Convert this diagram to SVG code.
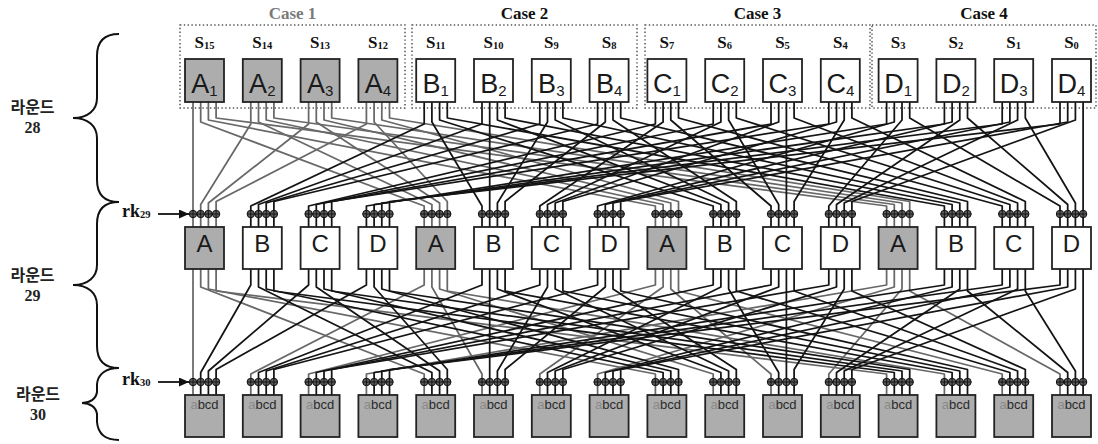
<svg xmlns="http://www.w3.org/2000/svg" xmlns:xlink="http://www.w3.org/1999/xlink" width="1098" height="444" viewBox="0 0 1098 444">
<style>
  .bg { fill: #ffffff; }
  .case { fill: none; stroke: #555; stroke-width: 1.5; stroke-dasharray: 1.4 2.4; }
  .ct { font-family: "Liberation Serif", "DejaVu Serif", serif; font-weight: bold; font-size: 17px; text-anchor: middle; fill: #111; }
  .ct1 { fill: #7a7a7a; }
  .sl { font-family: "Liberation Serif", "DejaVu Serif", serif; font-weight: bold; font-size: 17px; text-anchor: middle; fill: #111; }
  .ss { font-size: 10.5px; }
  .box { stroke: #222; stroke-width: 1.8; }
  .gr { fill: #adadad; }
  .wh { fill: #ffffff; }
  .tl { font-family: "Liberation Sans", Arial, sans-serif; font-size: 27px; text-anchor: middle; fill: #1a1a1a; }
  .tsub { font-size: 15px; }
  .ml { font-family: "Liberation Sans", Arial, sans-serif; font-size: 24px; text-anchor: middle; fill: #1a1a1a; }
  .bl { font-family: "Liberation Sans", Arial, sans-serif; font-size: 13px; text-anchor: middle; fill: #2a2a2a; }
  .bla { fill: #8a8a8a; }
  .w { fill: none; stroke-width: 1.75; stroke-linejoin: round; }
  .g { stroke: #686868; }
  .k { stroke: #141414; }
  .xo circle { fill: #5e5e5e; stroke: #111; stroke-width: 1; }
  .xo path { stroke: #111; stroke-width: 0.9; fill: none; }
  .brace { fill: none; stroke: #111; stroke-width: 2; }
  .rl { font-family: "Noto Sans CJK KR", "Noto Sans", sans-serif; font-weight: bold; font-size: 16px; text-anchor: middle; fill: #222; }
  .rn { font-family: "Liberation Serif", "DejaVu Serif", serif; font-weight: bold; font-size: 16px; text-anchor: middle; fill: #222; }
  .rk { font-family: "Liberation Serif", "DejaVu Serif", serif; font-weight: bold; font-size: 18px; fill: #111; }
  .rks { font-size: 10.5px; }
  .arr { stroke: #111; stroke-width: 1.8; fill: none; }
</style>
<defs>
  <marker id="ah" markerUnits="userSpaceOnUse" markerWidth="11" markerHeight="9" refX="10" refY="4.5" orient="auto">
    <path d="M0 0L10 4.5L0 9z" fill="#111"/>
  </marker>
  <!-- four XOR taps above one S-box, relative to the box's left edge -->
  <g id="xq" class="xo">
    <circle cx="8" cy="0" r="3.7"/><circle cx="15.7" cy="0" r="3.7"/><circle cx="23.4" cy="0" r="3.7"/><circle cx="31.1" cy="0" r="3.7"/>
    <path d="M4.3 0H34.8M8 -3.7V3.7M15.7 -3.7V3.7M23.4 -3.7V3.7M31.1 -3.7V3.7"/>
  </g>
</defs>
<rect class="bg" x="0" y="0" width="1098" height="444"/>

<!-- case groupings -->
<g id="cases">
  <rect class="case" x="180" y="25" width="225" height="83"/>
  <rect class="case" x="412" y="25" width="225" height="83"/>
  <rect class="case" x="645" y="25" width="225" height="83"/>
  <rect class="case" x="872" y="25" width="224" height="83"/>
  <text class="ct ct1" x="292.5" y="19">Case 1</text>
  <text class="ct" x="524.5" y="19">Case 2</text>
  <text class="ct" x="757.5" y="19">Case 3</text>
  <text class="ct" x="984" y="19">Case 4</text>
</g>

<!-- round labels and braces -->
<g id="rounds">
  <path class="brace" d="M119 34C104 34 97 42 97 56V98C97 110 88 118 73 118C88 118 97 126 97 138V180C97 194 104 202 119 202"/>
  <path class="brace" d="M119 202C104 202 97 210 97 224V265C97 277 88 285 73 285C88 285 97 293 97 305V346C97 360 104 368 119 368"/>
  <path class="brace" d="M119 368C106 368 98 374 97 384V392C96 399 90 403 82 403C90 403 96 407 97 414V422C98 434 106 440 119 440"/>
  <text class="rl" x="32.5" y="113">라운드</text>
  <text class="rn" x="32.5" y="133">28</text>
  <text class="rl" x="32.5" y="281">라운드</text>
  <text class="rn" x="32.5" y="301">29</text>
  <text class="rl" x="38" y="400">라운드</text>
  <text class="rn" x="38" y="420">30</text>
  <text class="rk" x="122" y="217">rk<tspan class="rks" dy="1">29</tspan></text>
  <text class="rk" x="122" y="385">rk<tspan class="rks" dy="1">30</tspan></text>
</g>

<!-- bit permutation wiring -->
<g id="connectors">
  <!-- round 28 -->
  <g class="w g">
    <path d="M193 102V227"/>
    <path d="M200.7 102V122L424.2 206V227"/>
    <path d="M208.4 102V120L655.4 206V227"/>
    <path d="M216.1 102V118L886.6 206V227"/>
    <path d="M250.8 102V124L200.7 204.5V227"/>
    <path d="M258.5 102V122L431.9 204.5V227"/>
    <path d="M266.2 102V120L663.1 204.5V227"/>
    <path d="M273.9 102V118L894.3 204.5V227"/>
    <path d="M308.6 102V124L208.4 203V227"/>
    <path d="M316.3 102V122L439.6 203V227"/>
    <path d="M324 102V120L670.8 203V227"/>
    <path d="M331.7 102V118L902 203V227"/>
    <path d="M366.4 102V124L216.1 201.5V227"/>
    <path d="M374.1 102V122L447.3 201.5V227"/>
    <path d="M381.8 102V120L678.5 201.5V227"/>
    <path d="M389.5 102V118L909.7 201.5V227"/>
  </g>
  <g class="w k">
    <path d="M424.2 102V124L250.8 206V227"/>
    <path d="M431.9 102V122L482 206V227"/>
    <path d="M439.6 102V120L713.2 206V227"/>
    <path d="M447.3 102V118L944.4 206V227"/>
    <path d="M482 102V124L258.5 204.5V227"/>
    <path d="M489.7 102V227"/>
    <path d="M497.4 102V120L720.9 204.5V227"/>
    <path d="M505.1 102V118L952.1 204.5V227"/>
    <path d="M539.8 102V124L266.2 203V227"/>
    <path d="M547.5 102V122L497.4 203V227"/>
    <path d="M555.2 102V120L728.6 203V227"/>
    <path d="M562.9 102V118L959.8 203V227"/>
    <path d="M597.6 102V124L273.9 201.5V227"/>
    <path d="M605.3 102V122L505.1 201.5V227"/>
    <path d="M613 102V120L736.3 201.5V227"/>
    <path d="M620.7 102V118L967.5 201.5V227"/>
    <path d="M655.4 102V124L308.6 206V227"/>
    <path d="M663.1 102V122L539.8 206V227"/>
    <path d="M670.8 102V120L771 206V227"/>
    <path d="M678.5 102V118L1002.2 206V227"/>
    <path d="M713.2 102V124L316.3 204.5V227"/>
    <path d="M720.9 102V122L547.5 204.5V227"/>
    <path d="M728.6 102V120L778.7 204.5V227"/>
    <path d="M736.3 102V118L1009.9 204.5V227"/>
    <path d="M771 102V124L324 203V227"/>
    <path d="M778.7 102V122L555.2 203V227"/>
    <path d="M786.4 102V227"/>
    <path d="M794.1 102V118L1017.6 203V227"/>
    <path d="M828.8 102V124L331.7 201.5V227"/>
    <path d="M836.5 102V122L562.9 201.5V227"/>
    <path d="M844.2 102V120L794.1 201.5V227"/>
    <path d="M851.9 102V118L1025.3 201.5V227"/>
    <path d="M886.6 102V124L366.4 206V227"/>
    <path d="M894.3 102V122L597.6 206V227"/>
    <path d="M902 102V120L828.8 206V227"/>
    <path d="M909.7 102V118L1060 206V227"/>
    <path d="M944.4 102V124L374.1 204.5V227"/>
    <path d="M952.1 102V122L605.3 204.5V227"/>
    <path d="M959.8 102V120L836.5 204.5V227"/>
    <path d="M967.5 102V118L1067.7 204.5V227"/>
    <path d="M1002.2 102V124L381.8 203V227"/>
    <path d="M1009.9 102V122L613 203V227"/>
    <path d="M1017.6 102V120L844.2 203V227"/>
    <path d="M1025.3 102V118L1075.4 203V227"/>
    <path d="M1060 102V124L389.5 201.5V227"/>
    <path d="M1067.7 102V122L620.7 201.5V227"/>
    <path d="M1075.4 102V120L851.9 201.5V227"/>
    <path d="M1083.1 102V227"/>
  </g>
  <!-- round 29 -->
  <g class="w g">
    <path d="M193 269V395"/>
    <path d="M200.7 269V287L424.2 374V395"/>
    <path d="M208.4 269V289L655.4 374V395"/>
    <path d="M216.1 269V291L886.6 374V395"/>
    <path d="M424.2 269V285L250.8 374V395"/>
    <path d="M431.9 269V287L482 374V395"/>
    <path d="M439.6 269V289L713.2 374V395"/>
    <path d="M447.3 269V291L944.4 374V395"/>
    <path d="M655.4 269V285L308.6 374V395"/>
    <path d="M663.1 269V287L539.8 374V395"/>
    <path d="M670.8 269V289L771 374V395"/>
    <path d="M678.5 269V291L1002.2 374V395"/>
    <path d="M886.6 269V285L366.4 374V395"/>
    <path d="M894.3 269V287L597.6 374V395"/>
    <path d="M902 269V289L828.8 374V395"/>
    <path d="M909.7 269V291L1060 374V395"/>
  </g>
  <g class="w k">
    <path d="M250.8 269V285L200.7 372.5V395"/>
    <path d="M258.5 269V287L431.9 372.5V395"/>
    <path d="M266.2 269V289L663.1 372.5V395"/>
    <path d="M273.9 269V291L894.3 372.5V395"/>
    <path d="M308.6 269V285L208.4 371V395"/>
    <path d="M316.3 269V287L439.6 371V395"/>
    <path d="M324 269V289L670.8 371V395"/>
    <path d="M331.7 269V291L902 371V395"/>
    <path d="M366.4 269V285L216.1 369.5V395"/>
    <path d="M374.1 269V287L447.3 369.5V395"/>
    <path d="M381.8 269V289L678.5 369.5V395"/>
    <path d="M389.5 269V291L909.7 369.5V395"/>
    <path d="M482 269V285L258.5 372.5V395"/>
    <path d="M489.7 269V395"/>
    <path d="M497.4 269V289L720.9 372.5V395"/>
    <path d="M505.1 269V291L952.1 372.5V395"/>
    <path d="M539.8 269V285L266.2 371V395"/>
    <path d="M547.5 269V287L497.4 371V395"/>
    <path d="M555.2 269V289L728.6 371V395"/>
    <path d="M562.9 269V291L959.8 371V395"/>
    <path d="M597.6 269V285L273.9 369.5V395"/>
    <path d="M605.3 269V287L505.1 369.5V395"/>
    <path d="M613 269V289L736.3 369.5V395"/>
    <path d="M620.7 269V291L967.5 369.5V395"/>
    <path d="M713.2 269V285L316.3 372.5V395"/>
    <path d="M720.9 269V287L547.5 372.5V395"/>
    <path d="M728.6 269V289L778.7 372.5V395"/>
    <path d="M736.3 269V291L1009.9 372.5V395"/>
    <path d="M771 269V285L324 371V395"/>
    <path d="M778.7 269V287L555.2 371V395"/>
    <path d="M786.4 269V395"/>
    <path d="M794.1 269V291L1017.6 371V395"/>
    <path d="M828.8 269V285L331.7 369.5V395"/>
    <path d="M836.5 269V287L562.9 369.5V395"/>
    <path d="M844.2 269V289L794.1 369.5V395"/>
    <path d="M851.9 269V291L1025.3 369.5V395"/>
    <path d="M944.4 269V285L374.1 372.5V395"/>
    <path d="M952.1 269V287L605.3 372.5V395"/>
    <path d="M959.8 269V289L836.5 372.5V395"/>
    <path d="M967.5 269V291L1067.7 372.5V395"/>
    <path d="M1002.2 269V285L381.8 371V395"/>
    <path d="M1009.9 269V287L613 371V395"/>
    <path d="M1017.6 269V289L844.2 371V395"/>
    <path d="M1025.3 269V291L1075.4 371V395"/>
    <path d="M1060 269V285L389.5 369.5V395"/>
    <path d="M1067.7 269V287L620.7 369.5V395"/>
    <path d="M1075.4 269V289L851.9 369.5V395"/>
    <path d="M1083.1 269V395"/>
  </g>
  <!-- round keys -->
  <path class="arr" d="M158 214H189" marker-end="url(#ah)"/>
  <path class="arr" d="M158 382H189" marker-end="url(#ah)"/>
</g>

<!-- round 28 S-boxes -->
<g id="s15"><text class="sl" x="204.5" y="48">S<tspan class="ss" dy="1">15</tspan></text><rect class="box gr" x="185" y="59" width="39" height="43"/><text class="tl" x="204.5" y="93">A<tspan class="tsub" dy="2.5">1</tspan></text></g>
<g id="s14"><text class="sl" x="262.3" y="48">S<tspan class="ss" dy="1">14</tspan></text><rect class="box gr" x="242.8" y="59" width="39" height="43"/><text class="tl" x="262.3" y="93">A<tspan class="tsub" dy="2.5">2</tspan></text></g>
<g id="s13"><text class="sl" x="320.1" y="48">S<tspan class="ss" dy="1">13</tspan></text><rect class="box gr" x="300.6" y="59" width="39" height="43"/><text class="tl" x="320.1" y="93">A<tspan class="tsub" dy="2.5">3</tspan></text></g>
<g id="s12"><text class="sl" x="377.9" y="48">S<tspan class="ss" dy="1">12</tspan></text><rect class="box gr" x="358.4" y="59" width="39" height="43"/><text class="tl" x="377.9" y="93">A<tspan class="tsub" dy="2.5">4</tspan></text></g>
<g id="s11"><text class="sl" x="435.7" y="48">S<tspan class="ss" dy="1">11</tspan></text><rect class="box wh" x="416.2" y="59" width="39" height="43"/><text class="tl" x="435.7" y="93">B<tspan class="tsub" dy="2.5">1</tspan></text></g>
<g id="s10"><text class="sl" x="493.5" y="48">S<tspan class="ss" dy="1">10</tspan></text><rect class="box wh" x="474" y="59" width="39" height="43"/><text class="tl" x="493.5" y="93">B<tspan class="tsub" dy="2.5">2</tspan></text></g>
<g id="s9"><text class="sl" x="551.3" y="48">S<tspan class="ss" dy="1">9</tspan></text><rect class="box wh" x="531.8" y="59" width="39" height="43"/><text class="tl" x="551.3" y="93">B<tspan class="tsub" dy="2.5">3</tspan></text></g>
<g id="s8"><text class="sl" x="609.1" y="48">S<tspan class="ss" dy="1">8</tspan></text><rect class="box wh" x="589.6" y="59" width="39" height="43"/><text class="tl" x="609.1" y="93">B<tspan class="tsub" dy="2.5">4</tspan></text></g>
<g id="s7"><text class="sl" x="666.9" y="48">S<tspan class="ss" dy="1">7</tspan></text><rect class="box wh" x="647.4" y="59" width="39" height="43"/><text class="tl" x="666.9" y="93">C<tspan class="tsub" dy="2.5">1</tspan></text></g>
<g id="s6"><text class="sl" x="724.7" y="48">S<tspan class="ss" dy="1">6</tspan></text><rect class="box wh" x="705.2" y="59" width="39" height="43"/><text class="tl" x="724.7" y="93">C<tspan class="tsub" dy="2.5">2</tspan></text></g>
<g id="s5"><text class="sl" x="782.5" y="48">S<tspan class="ss" dy="1">5</tspan></text><rect class="box wh" x="763" y="59" width="39" height="43"/><text class="tl" x="782.5" y="93">C<tspan class="tsub" dy="2.5">3</tspan></text></g>
<g id="s4"><text class="sl" x="840.3" y="48">S<tspan class="ss" dy="1">4</tspan></text><rect class="box wh" x="820.8" y="59" width="39" height="43"/><text class="tl" x="840.3" y="93">C<tspan class="tsub" dy="2.5">4</tspan></text></g>
<g id="s3"><text class="sl" x="898.1" y="48">S<tspan class="ss" dy="1">3</tspan></text><rect class="box wh" x="878.6" y="59" width="39" height="43"/><text class="tl" x="898.1" y="93">D<tspan class="tsub" dy="2.5">1</tspan></text></g>
<g id="s2"><text class="sl" x="955.9" y="48">S<tspan class="ss" dy="1">2</tspan></text><rect class="box wh" x="936.4" y="59" width="39" height="43"/><text class="tl" x="955.9" y="93">D<tspan class="tsub" dy="2.5">2</tspan></text></g>
<g id="s1"><text class="sl" x="1013.7" y="48">S<tspan class="ss" dy="1">1</tspan></text><rect class="box wh" x="994.2" y="59" width="39" height="43"/><text class="tl" x="1013.7" y="93">D<tspan class="tsub" dy="2.5">3</tspan></text></g>
<g id="s0"><text class="sl" x="1071.5" y="48">S<tspan class="ss" dy="1">0</tspan></text><rect class="box wh" x="1052" y="59" width="39" height="43"/><text class="tl" x="1071.5" y="93">D<tspan class="tsub" dy="2.5">4</tspan></text></g>

<!-- round 29 S-boxes with key-addition taps -->
<g id="m15"><use xlink:href="#xq" href="#xq" x="185" y="214"/><rect class="box gr" x="185" y="227" width="39" height="42"/><text class="ml" x="204.5" y="252">A</text></g>
<g id="m14"><use xlink:href="#xq" href="#xq" x="242.8" y="214"/><rect class="box wh" x="242.8" y="227" width="39" height="42"/><text class="ml" x="262.3" y="252">B</text></g>
<g id="m13"><use xlink:href="#xq" href="#xq" x="300.6" y="214"/><rect class="box wh" x="300.6" y="227" width="39" height="42"/><text class="ml" x="320.1" y="252">C</text></g>
<g id="m12"><use xlink:href="#xq" href="#xq" x="358.4" y="214"/><rect class="box wh" x="358.4" y="227" width="39" height="42"/><text class="ml" x="377.9" y="252">D</text></g>
<g id="m11"><use xlink:href="#xq" href="#xq" x="416.2" y="214"/><rect class="box gr" x="416.2" y="227" width="39" height="42"/><text class="ml" x="435.7" y="252">A</text></g>
<g id="m10"><use xlink:href="#xq" href="#xq" x="474" y="214"/><rect class="box wh" x="474" y="227" width="39" height="42"/><text class="ml" x="493.5" y="252">B</text></g>
<g id="m9"><use xlink:href="#xq" href="#xq" x="531.8" y="214"/><rect class="box wh" x="531.8" y="227" width="39" height="42"/><text class="ml" x="551.3" y="252">C</text></g>
<g id="m8"><use xlink:href="#xq" href="#xq" x="589.6" y="214"/><rect class="box wh" x="589.6" y="227" width="39" height="42"/><text class="ml" x="609.1" y="252">D</text></g>
<g id="m7"><use xlink:href="#xq" href="#xq" x="647.4" y="214"/><rect class="box gr" x="647.4" y="227" width="39" height="42"/><text class="ml" x="666.9" y="252">A</text></g>
<g id="m6"><use xlink:href="#xq" href="#xq" x="705.2" y="214"/><rect class="box wh" x="705.2" y="227" width="39" height="42"/><text class="ml" x="724.7" y="252">B</text></g>
<g id="m5"><use xlink:href="#xq" href="#xq" x="763" y="214"/><rect class="box wh" x="763" y="227" width="39" height="42"/><text class="ml" x="782.5" y="252">C</text></g>
<g id="m4"><use xlink:href="#xq" href="#xq" x="820.8" y="214"/><rect class="box wh" x="820.8" y="227" width="39" height="42"/><text class="ml" x="840.3" y="252">D</text></g>
<g id="m3"><use xlink:href="#xq" href="#xq" x="878.6" y="214"/><rect class="box gr" x="878.6" y="227" width="39" height="42"/><text class="ml" x="898.1" y="252">A</text></g>
<g id="m2"><use xlink:href="#xq" href="#xq" x="936.4" y="214"/><rect class="box wh" x="936.4" y="227" width="39" height="42"/><text class="ml" x="955.9" y="252">B</text></g>
<g id="m1"><use xlink:href="#xq" href="#xq" x="994.2" y="214"/><rect class="box wh" x="994.2" y="227" width="39" height="42"/><text class="ml" x="1013.7" y="252">C</text></g>
<g id="m0"><use xlink:href="#xq" href="#xq" x="1052" y="214"/><rect class="box wh" x="1052" y="227" width="39" height="42"/><text class="ml" x="1071.5" y="252">D</text></g>

<!-- round 30 S-boxes with key-addition taps -->
<g id="b15"><use xlink:href="#xq" href="#xq" x="185" y="382"/><rect class="box gr" x="185" y="395" width="39" height="42"/><text class="bl" x="204.5" y="409"><tspan class="bla">a</tspan>bcd</text></g>
<g id="b14"><use xlink:href="#xq" href="#xq" x="242.8" y="382"/><rect class="box gr" x="242.8" y="395" width="39" height="42"/><text class="bl" x="262.3" y="409"><tspan class="bla">a</tspan>bcd</text></g>
<g id="b13"><use xlink:href="#xq" href="#xq" x="300.6" y="382"/><rect class="box gr" x="300.6" y="395" width="39" height="42"/><text class="bl" x="320.1" y="409"><tspan class="bla">a</tspan>bcd</text></g>
<g id="b12"><use xlink:href="#xq" href="#xq" x="358.4" y="382"/><rect class="box gr" x="358.4" y="395" width="39" height="42"/><text class="bl" x="377.9" y="409"><tspan class="bla">a</tspan>bcd</text></g>
<g id="b11"><use xlink:href="#xq" href="#xq" x="416.2" y="382"/><rect class="box gr" x="416.2" y="395" width="39" height="42"/><text class="bl" x="435.7" y="409"><tspan class="bla">a</tspan>bcd</text></g>
<g id="b10"><use xlink:href="#xq" href="#xq" x="474" y="382"/><rect class="box gr" x="474" y="395" width="39" height="42"/><text class="bl" x="493.5" y="409"><tspan class="bla">a</tspan>bcd</text></g>
<g id="b9"><use xlink:href="#xq" href="#xq" x="531.8" y="382"/><rect class="box gr" x="531.8" y="395" width="39" height="42"/><text class="bl" x="551.3" y="409"><tspan class="bla">a</tspan>bcd</text></g>
<g id="b8"><use xlink:href="#xq" href="#xq" x="589.6" y="382"/><rect class="box gr" x="589.6" y="395" width="39" height="42"/><text class="bl" x="609.1" y="409"><tspan class="bla">a</tspan>bcd</text></g>
<g id="b7"><use xlink:href="#xq" href="#xq" x="647.4" y="382"/><rect class="box gr" x="647.4" y="395" width="39" height="42"/><text class="bl" x="666.9" y="409"><tspan class="bla">a</tspan>bcd</text></g>
<g id="b6"><use xlink:href="#xq" href="#xq" x="705.2" y="382"/><rect class="box gr" x="705.2" y="395" width="39" height="42"/><text class="bl" x="724.7" y="409"><tspan class="bla">a</tspan>bcd</text></g>
<g id="b5"><use xlink:href="#xq" href="#xq" x="763" y="382"/><rect class="box gr" x="763" y="395" width="39" height="42"/><text class="bl" x="782.5" y="409"><tspan class="bla">a</tspan>bcd</text></g>
<g id="b4"><use xlink:href="#xq" href="#xq" x="820.8" y="382"/><rect class="box gr" x="820.8" y="395" width="39" height="42"/><text class="bl" x="840.3" y="409"><tspan class="bla">a</tspan>bcd</text></g>
<g id="b3"><use xlink:href="#xq" href="#xq" x="878.6" y="382"/><rect class="box gr" x="878.6" y="395" width="39" height="42"/><text class="bl" x="898.1" y="409"><tspan class="bla">a</tspan>bcd</text></g>
<g id="b2"><use xlink:href="#xq" href="#xq" x="936.4" y="382"/><rect class="box gr" x="936.4" y="395" width="39" height="42"/><text class="bl" x="955.9" y="409"><tspan class="bla">a</tspan>bcd</text></g>
<g id="b1"><use xlink:href="#xq" href="#xq" x="994.2" y="382"/><rect class="box gr" x="994.2" y="395" width="39" height="42"/><text class="bl" x="1013.7" y="409"><tspan class="bla">a</tspan>bcd</text></g>
<g id="b0"><use xlink:href="#xq" href="#xq" x="1052" y="382"/><rect class="box gr" x="1052" y="395" width="39" height="42"/><text class="bl" x="1071.5" y="409"><tspan class="bla">a</tspan>bcd</text></g>
</svg>
